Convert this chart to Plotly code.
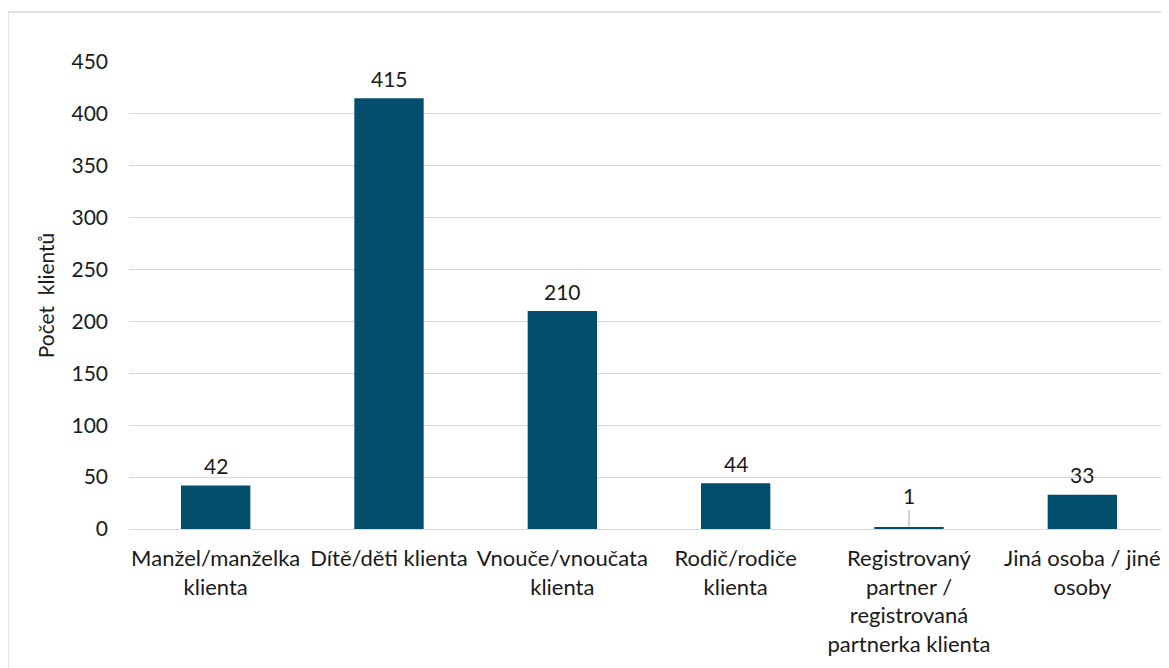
import plotly.graph_objects as go

categories = [
    "Manžel/manželka<br>klienta",
    "Dítě/děti klienta",
    "Vnouče/vnoučata<br>klienta",
    "Rodič/rodiče<br>klienta",
    "Registrovaný<br>partner /<br>registrovaná<br>partnerka klienta",
    "Jiná osoba / jiné<br>osoby",
]
values = [42, 415, 210, 44, 1, 33]
y_ticks = [0, 50, 100, 150, 200, 250, 300, 350, 400, 450]

BAR = "#034e6c"
FONT = "Lato, 'Open Sans', sans-serif"
TXT = "#1a1a1a"
FS = 21

fig = go.Figure()
fig.add_trace(go.Bar(x=categories, y=values, marker=dict(color=BAR, line=dict(width=0)),
                     hoverinfo="skip"))

for c, v in zip(categories, values):
    if v < 5:
        fig.add_annotation(x=c, y=v, text=str(v), showarrow=True, arrowhead=0,
                           arrowwidth=1, arrowcolor="#a6a6a6", ax=0, ay=-32,
                           standoff=1, font=dict(size=FS, color=TXT, family=FONT))
    else:
        fig.add_annotation(x=c, y=v, text=str(v), showarrow=False, yshift=20,
                           font=dict(size=FS, color=TXT, family=FONT))

# page body has an 8px offset
W, H = 1161, 660
L, R, T, B = 121, 0, 54, 139
pw = W - L - R
ph = H - T - B

fig.add_shape(type="rect", xref="paper", yref="paper",
              x0=(0 - L) / pw, x1=(W + 20 - L) / pw,
              y0=-(H + 20 - T - ph) / ph, y1=1 + (T - 4) / ph,
              line=dict(color="#d9d9d9", width=1.5), fillcolor="rgba(0,0,0,0)", layer="below")

fig.update_layout(
    width=W, height=H,
    margin=dict(l=L, r=R, t=T, b=B, pad=0),
    paper_bgcolor="white", plot_bgcolor="white",
    bargap=0.6,
    showlegend=False,
    font=dict(family=FONT, size=FS, color=TXT),
    xaxis=dict(showgrid=False, showline=False, ticks="", tickangle=0,
               tickfont=dict(size=22, color=TXT, family=FONT), ticklabelstandoff=14),
    yaxis=dict(range=[0, 450], tickvals=y_ticks, showgrid=True, gridcolor="#d9d9d9",
               gridwidth=1, zeroline=True, zerolinecolor="#d9d9d9", zerolinewidth=1,
               showline=False, ticks="", ticklabelstandoff=20,
               tickfont=dict(size=FS, color=TXT, family=FONT),
               title=dict(text="Počet  klientů", standoff=11,
                          font=dict(size=FS, color=TXT, family=FONT))),
)

fig.write_html("out.html")
